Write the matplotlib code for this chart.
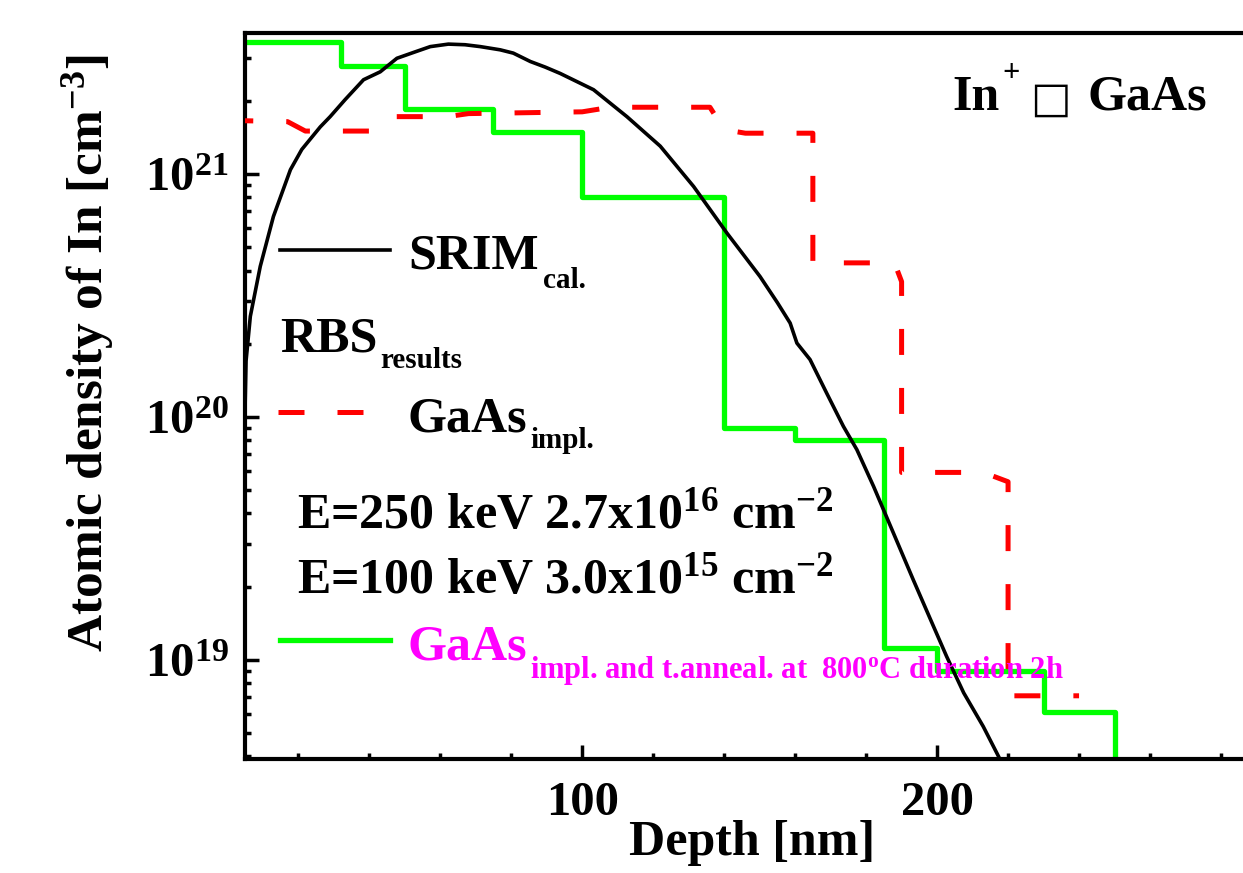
import matplotlib
matplotlib.use('Agg')
import matplotlib.pyplot as plt
from matplotlib.ticker import MultipleLocator, LogLocator, NullFormatter, FixedLocator
from matplotlib.lines import Line2D

plt.rcParams['font.family'] = ['Liberation Serif', 'DejaVu Sans']
plt.rcParams['font.weight'] = 'bold'
plt.rcParams['mathtext.fontset'] = 'custom'
plt.rcParams['mathtext.rm'] = 'Liberation Serif:bold'
plt.rcParams['mathtext.bf'] = 'Liberation Serif:bold'
plt.rcParams['mathtext.it'] = 'Liberation Serif:bold:italic'
plt.rcParams['mathtext.default'] = 'rm'

# SRIM calculated profile (depth in nm, density in cm^-3)
srim_depth = [5.0, 5.3, 6.5, 9.3, 13.0, 17.8, 21.0, 26.2, 29.0, 33.2, 38.4, 43.1,
              47.8, 53.0, 57.2, 62.3, 67.0, 71.3, 76.9, 80.6, 85.4, 89.6, 93.8,
              103.2, 112.6, 122.0, 131.4, 140.8, 150.1, 155.0, 158.6, 160.5, 164.2,
              168.9, 173.6, 177.4, 182.1, 187.7, 193.3, 199.0, 202.7, 207.5, 213.0,
              217.3, 220.0]
srim_dens = [1.05e20, 1.7e20, 2.59e20, 4.16e20, 6.67e20, 1.04e21, 1.26e21, 1.56e21,
             1.72e21, 2.02e21, 2.44e21, 2.63e21, 2.99e21, 3.18e21, 3.34e21, 3.42e21,
             3.40e21, 3.34e21, 3.24e21, 3.14e21, 2.90e21, 2.75e21, 2.59e21, 2.22e21,
             1.72e21, 1.30e21, 8.87e20, 5.70e20, 3.78e20, 2.95e20, 2.43e20, 2.01e20,
             1.72e20, 1.25e20, 9.13e19, 7.32e19, 5.17e19, 3.32e19, 2.13e19, 1.37e19,
             1.03e19, 7.3e18, 5.31e18, 4.0e18, 3.3e18]

# RBS, GaAs implanted
red_depth = [0, 17, 22, 40, 45, 62, 68, 100, 108, 136, 140, 146, 165, 165,
             188, 190, 190, 213, 220, 220, 240]
red_dens = [1.66e21, 1.64e21, 1.50e21, 1.50e21, 1.72e21, 1.72e21, 1.77e21, 1.80e21,
            1.88e21, 1.88e21, 1.52e21, 1.47e21, 1.47e21, 4.3e20, 4.3e20, 3.6e20,
            5.9e19, 5.9e19, 5.4e19, 7.1e18, 7.1e18]

# RBS, GaAs implanted and thermally annealed (step edges and levels)
green_edges = [0, 32, 50, 75, 100, 140, 160, 185, 200, 230, 250]
green_dens = [3.5e21, 2.78e21, 1.85e21, 1.49e21, 8.0e20, 9.0e19, 8.0e19,
              1.12e19, 9.0e18, 6.1e18, 1.0e18]

fig = plt.figure(figsize=(12.43, 8.73), dpi=100)
ax = fig.add_axes([245 / 1243, 114 / 873, 1047 / 1243, 726 / 873])

ax.plot(green_edges, green_dens, drawstyle='steps-post', color='#00ff00', lw=3.8, zorder=2)
ax.plot(red_depth, red_dens, color='#ff0000', lw=3.6, dashes=(5.2, 6.6), zorder=3)
ax.plot(srim_depth, srim_dens, color='black', lw=2.6, zorder=4)

ax.set_yscale('log')
ax.set_xlim(5, 300)
ax.set_ylim(3.9e18, 3.8e21)

ax.xaxis.set_major_locator(FixedLocator([100, 200]))
ax.xaxis.set_minor_locator(MultipleLocator(20))
ax.set_xticklabels(['100', '200'])
ax.yaxis.set_major_locator(FixedLocator([1e19, 1e20, 1e21]))
ax.yaxis.set_minor_locator(LogLocator(base=10, subs=range(2, 10)))
ax.yaxis.set_minor_formatter(NullFormatter())
ax.set_yticklabels([r'$10^{19}$', r'$10^{20}$', r'$10^{21}$'])

ax.tick_params(which='both', direction='in', top=False, right=False, width=2.5)
ax.tick_params(which='major', length=10, labelsize=35)
ax.tick_params(axis='x', which='major', pad=16)
ax.tick_params(axis='y', which='major', pad=12)
ax.tick_params(which='minor', length=4.5)
for s in ax.spines.values():
    s.set_linewidth(3)

ax.set_xlabel('Depth [nm]', fontsize=36, fontweight='bold')
ax.xaxis.set_label_coords(0.484, -0.084)
ax.set_ylabel(r'Atomic density of In [cm$^{-3}$]', fontsize=37, fontweight='bold')
ax.yaxis.set_label_coords(-0.123, 0.559)

# legend-like annotations
fig.add_artist(Line2D([280 / 1243, 390 / 1243], [0.7136, 0.7136], color='black', lw=2.6))
fig.add_artist(Line2D([278 / 1243, 390 / 1243], [0.5281, 0.5281], color='#ff0000', lw=3.6,
                      dashes=(5.2, 6.6)))
fig.add_artist(Line2D([280 / 1243, 390 / 1243], [0.2669, 0.2669], color='#00ff00', lw=3.8))

big = 36
small = 21
fig.text(0.3282, 0.6930, 'SRIM', fontsize=big, va='baseline')
fig.text(0.4368, 0.6700, 'cal.', fontsize=small, va='baseline')
fig.text(0.2253, 0.5968, 'RBS', fontsize=big, va='baseline')
fig.text(0.3057, 0.5785, 'results', fontsize=small, va='baseline')
fig.text(0.3282, 0.5052, 'GaAs', fontsize=big, va='baseline')
fig.text(0.4264, 0.4868, 'impl.', fontsize=small, va='baseline')
fig.text(0.2389, 0.3952, r'E=250 keV 2.7x10$^{16}$ cm$^{-2}$', fontsize=big, va='baseline')
fig.text(0.2389, 0.3207, r'E=100 keV 3.0x10$^{15}$ cm$^{-2}$', fontsize=big, va='baseline')
fig.text(0.3282, 0.2440, 'GaAs', fontsize=big, va='baseline', color='#ff00ff')
fig.text(0.4264, 0.2234, r'impl. and t.anneal. at  800$^{\mathrm{o}}$C duration 2h',
         fontsize=22, va='baseline', color='#ff00ff', zorder=3)

fig.text(0.7659, 0.8740, 'In', fontsize=big, va='baseline')
fig.text(0.8061, 0.9072, '+', fontsize=22, va='baseline')
fig.text(0.8290, 0.8720, '\u25a1', fontsize=31, va='baseline', family='DejaVu Sans',
         fontweight='normal')
fig.text(0.8745, 0.8740, 'GaAs', fontsize=big, va='baseline')

fig.savefig('out.png', dpi=100)
